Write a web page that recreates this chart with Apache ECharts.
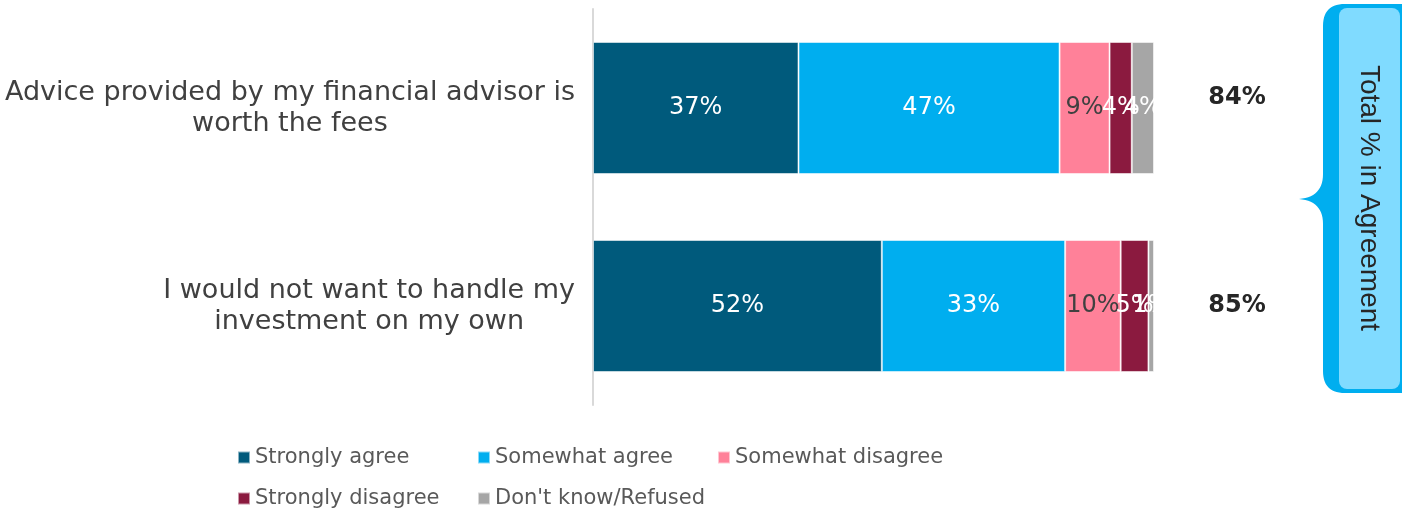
<!DOCTYPE html>
<html>
<head>
<meta charset="utf-8">
<style>
  html, body { margin: 0; padding: 0; background: #ffffff; }
  #chart { width: 1402px; height: 509px; }
</style>
<script src="https://cdn.jsdelivr.net/npm/echarts@6/dist/echarts.min.js"></script>
</head>
<body>
<div id="chart"></div>
<script>
// Survey statements (line break where the label wraps)
const statements = [
  'Advice provided by my financial advisor is\nworth the fees',
  'I would not want to handle my\ninvestment on my own'
];

// Response shares (%) per statement, in stacking order
const responseNames = ['Strongly agree', 'Somewhat agree', 'Somewhat disagree', 'Strongly disagree', "Don't know/Refused"];
const stronglyAgree    = [37, 52];
const somewhatAgree    = [47, 33];
const somewhatDisagree = [9, 10];
const stronglyDisagree = [4, 5];
const dontKnow         = [4, 1];

const responseValues = [stronglyAgree, somewhatAgree, somewhatDisagree, stronglyDisagree, dontKnow];
const responseColors = ['#005A7C', '#00AEEF', '#FF8199', '#8B1A3F', '#A6A6A6'];
const labelColors    = ['#ffffff', '#ffffff', '#404040', '#ffffff', '#ffffff'];

// Total agreement = strongly + somewhat agree
const totalAgree = stronglyAgree.map((v, i) => v + somewhatAgree[i]);
const totalOffsetY = [-10, 0];

const FONT = 'DejaVu Sans';

const chart = echarts.init(document.getElementById('chart'), null, { renderer: 'canvas' });

const series = responseNames.map((name, k) => ({
  name: name,
  type: 'bar',
  stack: 'all',
  barCategoryGap: '33.3%',
  data: responseValues[k],
  itemStyle: {
    color: responseColors[k],
    borderColor: 'rgba(255,255,255,0.55)',
    borderWidth: 1
  },
  label: {
    show: true,
    position: 'inside',
    formatter: '{c}%',
    fontFamily: FONT,
    fontSize: 24,
    color: labelColors[k]
  },
  emphasis: { disabled: true }
}));

// Legend laid out as a grid of fixed columns
const legendCols = [237, 477, 717];
const legendRows = [447, 488];
const legends = responseNames.map((name, k) => ({
  data: [name],
  left: legendCols[k % 3],
  top: legendRows[Math.floor(k / 3)],
  padding: 0,
  icon: 'rect',
  itemWidth: 12,
  itemHeight: 12,
  selectedMode: false,
  textStyle: { fontFamily: FONT, fontSize: 21, color: '#595959', lineHeight: 21 }
}));

chart.setOption({
  animation: false,
  backgroundColor: '#ffffff',
  grid: { left: 593, right: 248, top: 9, bottom: 104, containLabel: false },
  xAxis: {
    type: 'value',
    min: 0,
    max: 101,
    show: false
  },
  yAxis: {
    type: 'category',
    inverse: true,
    data: statements,
    axisLine: { show: true, lineStyle: { color: '#D9D9D9', width: 2 } },
    axisTick: { show: false },
    splitLine: { show: false },
    axisLabel: {
      margin: 18,
      align: 'right',
      formatter: function (v) {
        return v.split('\n').map(s => '{c|' + s + '}').join('\n');
      },
      rich: {
        c: { align: 'center', fontFamily: FONT, fontSize: 27, lineHeight: 31, color: '#404040' }
      }
    }
  },
  legend: legends,
  series: series
});

// Outline of the brace: straight runs joined by quadratic curves, sampled to points
function braceOutline() {
  const pts = [];
  function line(x, y) { pts.push([x, y]); }
  function quad(x0, y0, cx, cy, x1, y1) {
    const n = 14;
    for (let i = 1; i <= n; i++) {
      const t = i / n, u = 1 - t;
      pts.push([u * u * x0 + 2 * u * t * cx + t * t * x1, u * u * y0 + 2 * u * t * cy + t * t * y1]);
    }
  }
  line(1345, 4);
  line(1410, 4);
  line(1410, 393);
  line(1345, 393);
  quad(1345, 393, 1323, 393, 1323, 371);
  line(1323, 224);
  quad(1323, 224, 1323, 201, 1299, 199);
  quad(1299, 199, 1323, 197, 1323, 174);
  line(1323, 26);
  quad(1323, 26, 1323, 4, 1345, 4);
  return pts;
}

// Right-hand annotations: totals, brace and caption
const graphics = totalAgree.map((t, i) => {
  const y = chart.convertToPixel({ yAxisIndex: 0 }, i) + totalOffsetY[i];
  return {
    type: 'text',
    x: 1237,
    y: y,
    style: {
      text: t + '%',
      fontFamily: FONT,
      fontWeight: 'bold',
      fontSize: 24,
      fill: '#262626',
      align: 'center',
      verticalAlign: 'middle'
    }
  };
});

graphics.push({
  type: 'polygon',
  shape: { points: braceOutline() },
  style: { fill: '#00AEEF' }
});
graphics.push({
  type: 'rect',
  shape: { x: 1339, y: 8, width: 61, height: 381, r: 8 },
  style: { fill: '#80DBFF' }
});
graphics.push({
  type: 'text',
  x: 1369,
  y: 198,
  rotation: -Math.PI / 2,
  style: {
    text: 'Total % in Agreement',
    fontFamily: 'Liberation Sans',
    fontSize: 28,
    fill: '#262626',
    align: 'center',
    verticalAlign: 'middle'
  }
});

chart.setOption({ graphic: graphics });
</script>
</body>
</html>
